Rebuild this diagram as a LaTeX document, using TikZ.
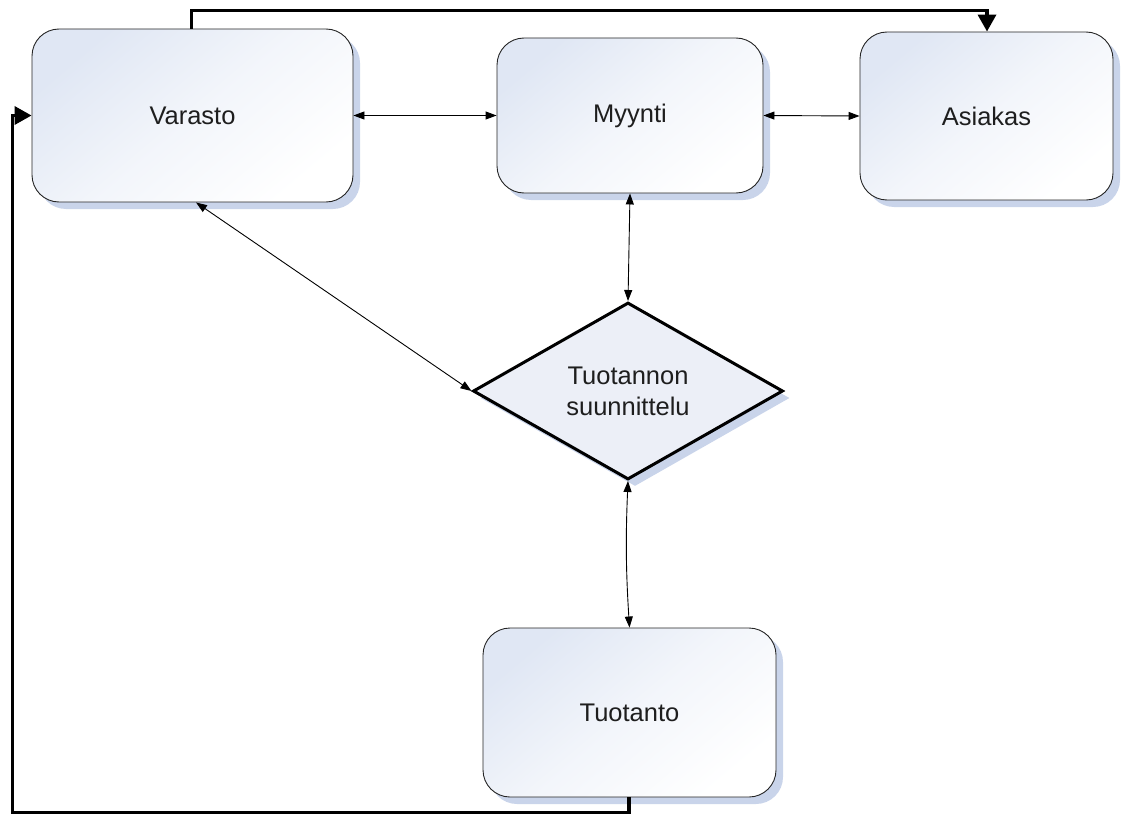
\documentclass[tikz,border=0pt]{standalone}
\usepackage{fontspec}
\setmainfont{Liberation Sans}
\usetikzlibrary{arrows.meta,shapes.geometric,shadows,shadings}
\definecolor{boxtop}{HTML}{E0E7F4}
\definecolor{shadowc}{HTML}{C9D4EA}
\definecolor{diafill}{HTML}{ECEFF7}
\definecolor{txt}{HTML}{1E1E1E}
\tikzset{
  box/.style={draw=black!85, line width=0.9pt, rounded corners=27pt,
    top color=boxtop, bottom color=white, middle color=white!60!boxtop, shading angle=40,
    drop shadow={shadow xshift=7pt, shadow yshift=-7pt, fill=shadowc, opacity=1},
    text=txt, font=\fontsize{25.5}{30}\selectfont, inner sep=0pt},
  dia/.style={diamond, draw=black, line width=3pt, fill=diafill,
    drop shadow={shadow xshift=7pt, shadow yshift=-7pt, fill=shadowc, opacity=1},
    text=txt, font=\fontsize{25.5}{31}\selectfont, align=center, inner sep=0pt},
  thin/.style={line width=0.9pt, {Triangle[length=11pt,width=8pt]}-{Triangle[length=11pt,width=8pt]}},
  thick/.style={line width=3.5pt, -{Triangle[length=17pt,width=18pt]}}
}
\begin{document}
\begin{tikzpicture}[x=1pt,y=-1pt]
\useasboundingbox (0,0) rectangle (1127,816);
\node[box, minimum width=321pt, minimum height=173pt] (var) at (192.5,115.5) {Varasto};
\node[box, minimum width=266pt, minimum height=155pt] (myy) at (630,115.5) {Myynti};
\node[box, minimum width=253pt, minimum height=168pt] (asi) at (986.5,116) {Asiakas};
\node[box, minimum width=293pt, minimum height=169pt] (tuo) at (629.5,712.5) {Tuotanto};
\node[dia, minimum width=310pt, minimum height=177pt] (ts) at (628,391) {Tuotannon\\suunnittelu};
\coordinate (c1) at (191.5,10.5);
\coordinate (c2) at (987,10.5);
\coordinate (c3) at (629,812.5);
\coordinate (c4) at (12.5,812.5);
\coordinate (c5) at (12.5,115.5);
\draw[thin] (var.east) -- (myy.west);
\draw[thin] (myy.east) -- (asi.west);
\draw[thin] (myy.south) -- (ts.north);
\draw[thin] (var.south -| 196,0) -- (ts.west);
\draw[thin] (ts.south) to[bend right=3] (tuo.north);
\draw[thick, line join=miter] (var.north -| c1) -- (c1) -- (c2) -- (asi.north -| c2);
\draw[thick, line join=miter] (tuo.south -| c3) -- (c3) -- (c4) -- (c5) -- (var.west);
\end{tikzpicture}
\end{document}
